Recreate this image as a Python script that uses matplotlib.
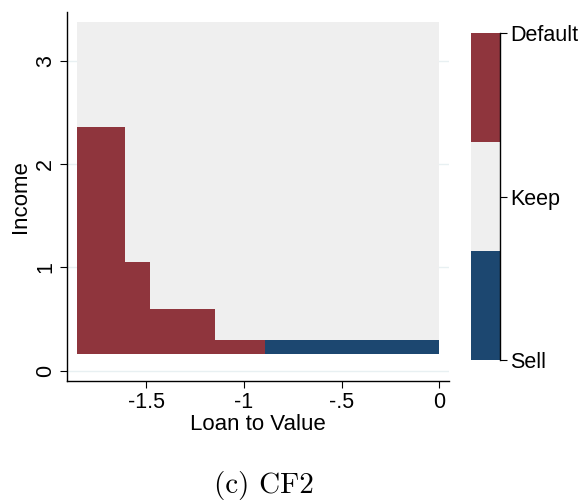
import numpy as np
import matplotlib
matplotlib.use("Agg")
import matplotlib.pyplot as plt
from matplotlib.colors import ListedColormap, BoundaryNorm

plt.rcParams['font.family'] = ['Liberation Sans', 'DejaVu Sans']

# Data: policy regions on a (loan-to-value, income) grid
ltv_edges = [-1.855, -1.611, -1.483, -1.147, -0.893, 0.0]
income_edges = [0.165, 0.297, 0.594, 1.052, 2.356, 3.38]
# number of bottom rows that are "Default" in each LTV column
default_rows = [4, 3, 2, 1, 0]
# number of bottom rows that are "Sell" in each LTV column
sell_rows = [0, 0, 0, 0, 1]
categories = ["Sell", "Keep", "Default"]
cat_colors = ["#1C4770", "#EFEFEF", "#8F353D"]
xticks = [-1.5, -1.0, -0.5, 0.0]
xticklabels = ["-1.5", "-1", "-.5", "0"]
yticks = [0, 1, 2, 3]

ncol = len(ltv_edges) - 1
nrow = len(income_edges) - 1
grid = np.ones((nrow, ncol))
for j in range(ncol):
    grid[:default_rows[j], j] = 2
    grid[:sell_rows[j], j] = 0

cmap = ListedColormap(cat_colors)
norm = BoundaryNorm([-0.5, 0.5, 1.5, 2.5], 3)

fig = plt.figure(figsize=(5.84, 5.0), dpi=100)
ax = fig.add_axes([0.1153, 0.238, 0.654, 0.7374])
for y in yticks:
    ax.axhline(y, color="#E8F0F2", lw=1.0, zorder=0)
ax.pcolormesh(ltv_edges, income_edges, grid, cmap=cmap, norm=norm, zorder=1)
ax.set_xlim(-1.905, 0.051)
ax.set_ylim(-0.10, 3.47)
ax.spines['top'].set_visible(False)
ax.spines['right'].set_visible(False)
for s in ['left', 'bottom']:
    ax.spines[s].set_linewidth(1.0)
ax.set_xticks(xticks)
ax.set_xticklabels(xticklabels)
ax.set_yticks(yticks)
ax.set_yticklabels([str(v) for v in yticks], rotation=90, va='center')
ax.tick_params(axis='both', labelsize=15.5, length=5, width=0.8, direction='out', pad=3)
ax.set_xlabel("Loan to Value", fontsize=16, labelpad=1)
ax.set_ylabel("Income", fontsize=16, labelpad=3)

# Colorbar-like legend
cax = fig.add_axes([0.8065, 0.28, 0.0502, 0.6534])
cax.pcolormesh([0, 1], [0, 1, 2, 3], np.array([[0], [1], [2]]), cmap=cmap, norm=norm)
cax.set_xlim(0, 1)
cax.set_ylim(0, 3)
for s in ['top', 'left', 'bottom']:
    cax.spines[s].set_visible(False)
cax.spines['right'].set_linewidth(1.0)
cax.set_xticks([])
cax.yaxis.tick_right()
cax.set_yticks([0, 1.5, 3])
cax.set_yticklabels(categories)
cax.tick_params(axis='y', labelsize=15.5, length=5, width=0.8, pad=2)

fig.text(0.452, 0.03, "(c) CF2", fontsize=21, family='cmr10', ha='center', va='center')

fig.savefig("out.png", dpi=100)
